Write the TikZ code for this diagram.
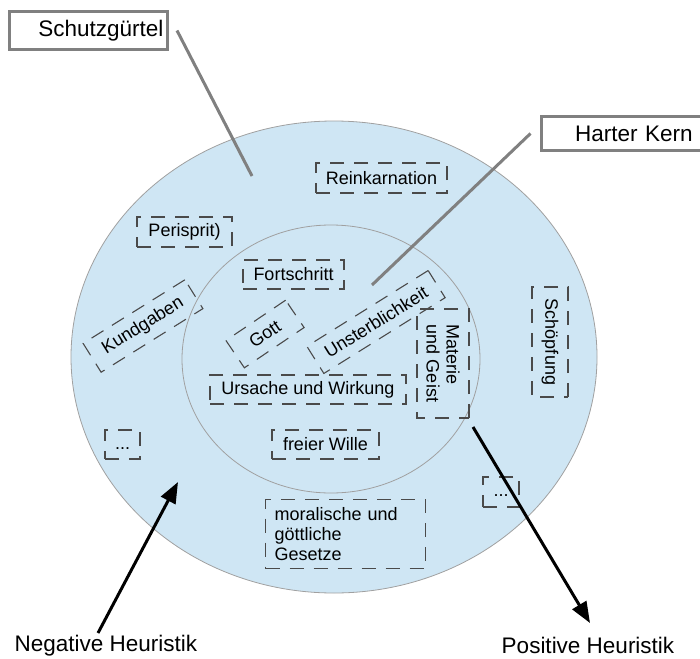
\documentclass[tikz,border=0pt]{standalone}
\usepackage{fontspec}
\setmainfont{Liberation Sans}
\usetikzlibrary{arrows.meta}
\definecolor{shell}{HTML}{CFE6F4}
\definecolor{rim}{HTML}{A0A0A0}
\definecolor{pointergray}{HTML}{808080}
\definecolor{dashgray}{HTML}{4A4A4A}
\tikzset{
  labelbox/.style={draw=pointergray, line width=3pt, fill=white, font=\fontsize{22.5}{26}\selectfont, inner ysep=0pt},
  pointer/.style={draw=pointergray, line width=3pt},
  idea/.style={draw=dashgray, line width=1.1pt, dash pattern=on 14pt off 10pt, font=\fontsize{18}{20}\selectfont, inner sep=0pt, text=black},
  heurarrow/.style={line width=3pt, -{Triangle[length=21pt,width=16pt]}},
  heurlabel/.style={font=\fontsize{22.5}{26}\selectfont, inner sep=0pt},
}
\begin{document}
\begin{tikzpicture}[x=1pt,y=-1pt]
\useasboundingbox (0,0) rectangle (700,658);
\clip (0,0) rectangle (700,658);
% rings
\draw[draw=rim, fill=shell, line width=0.8pt] (334,357) ellipse [x radius=263pt, y radius=236pt];
\draw[draw=rim, fill=shell, line width=0.8pt] (331,359) ellipse [x radius=149pt, y radius=134pt];
% protective belt items
\node[idea, minimum width=131pt, minimum height=30pt] (rein) at (381.5,178) {Reinkarnation};
\node[idea, minimum width=95pt, minimum height=30pt] (peri) at (184.5,232) {Perisprit)};
\node[idea, minimum width=120pt, minimum height=34pt, rotate=32] (kund) at (143,326) {Kundgaben};
\node[idea, minimum width=110pt, minimum height=36pt, rotate=-90] (schoepf) at (550,342) {Schöpfung};
\node[idea, minimum width=35pt, minimum height=29pt, text height=13pt, text depth=4pt] (dotsl) at (122.5,444.5) {...};
\node[idea, minimum width=36pt, minimum height=30pt, text height=13pt, text depth=4pt] (dotsr) at (501,492) {...};
\node[idea, anchor=north west, text width=142pt, align=left, inner xsep=9pt, minimum height=69pt] (moral) at (265,499) {moralische und\\göttliche\\Gesetze};
% hard core items
\node[idea, minimum width=101pt, minimum height=29pt] (fort) at (293.5,274.5) {Fortschritt};
\node[idea, minimum width=72pt, minimum height=33pt, rotate=34] (gott) at (265,334) {Gott};
\node[idea, minimum width=143pt, minimum height=32pt, rotate=32] (unst) at (376,322) {Unsterblichkeit};
\node[idea, minimum width=196pt, minimum height=29pt] (urs) at (308,389.5) {Ursache und Wirkung};
\node[idea, minimum width=109pt, minimum height=52pt, rotate=-90, align=left] (mat) at (443,363.5) {Materie\\und Geist};
\node[idea, minimum width=107pt, minimum height=29pt] (frei) at (325.5,444.5) {freier Wille};
% labels with pointers
\node[labelbox, text width=150pt, align=right, inner xsep=4pt, minimum height=38pt] (schutz) at (88.5,30.5) {Schutzgürtel};
\coordinate (beltpt) at (252,176);
\draw[pointer] ([xshift=8pt]schutz.east) -- (beltpt);
\node[labelbox, anchor=west, text width=160pt, align=left, inner xsep=4pt, minimum height=34pt] (harter) at (539.5,133.5) {\hspace*{30pt}Harter Kern};
\coordinate (corept) at (372,285);
\draw[pointer] ([xshift=-9pt]harter.west) -- (corept);
% heuristics
\node[heurlabel] (neg) at (106,646) {Negative Heuristik};
\node[heurlabel] (pos) at (588,645) {Positive Heuristik};
\coordinate (negtail) at (98,633);
\coordinate (negtip) at (178,482);
\coordinate (postail) at (473,427);
\coordinate (postip) at (590,623);
\draw[heurarrow] (negtail) -- (negtip);
\draw[heurarrow] (postail) -- (postip);
\end{tikzpicture}
\end{document}
